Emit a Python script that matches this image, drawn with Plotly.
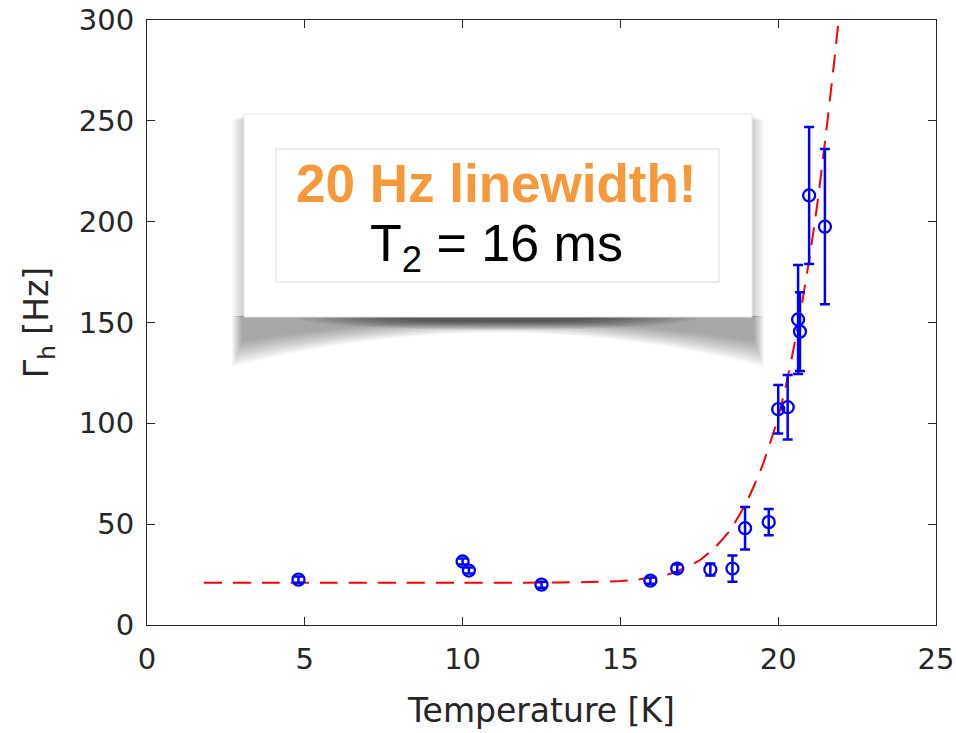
import plotly.graph_objects as go

# Measured homogeneous linewidth vs temperature
temperature_K = [4.8, 10.0, 10.2, 12.5, 15.95, 16.8, 17.85, 18.55, 18.95, 19.7,
                 20.0, 20.3, 20.63, 20.69, 20.98, 21.48]
linewidth_Hz = [22.5, 31.5, 27.0, 20.0, 22.0, 28.0, 27.5, 28.0, 48.0, 51.0,
                107.0, 108.0, 151.5, 145.5, 213.0, 197.5]
linewidth_err = [1.5, 1.5, 1.5, 1.5, 1.5, 2.0, 3.0, 6.5, 10.5, 6.5,
                 12.0, 16.0, 27.0, 19.5, 34.0, 38.5]

# Fitted model curve, sampled
fit_T = [1.8, 4, 6, 8, 10, 12, 13, 14, 15, 15.5, 16, 16.5, 17, 17.5, 18, 18.5,
         19, 19.5, 20, 20.25, 20.5, 20.75, 21, 21.25, 21.5, 21.75, 21.95]
fit_G = [21, 21, 21, 21, 21, 21, 21.1, 21.3, 21.8, 22.4, 23.5, 25, 28, 32, 38.5, 47.5,
         61, 79, 103, 119, 138, 159, 183, 210, 242, 276, 305]

x_ticks = [0, 5, 10, 15, 20, 25]
y_ticks = [0, 50, 100, 150, 200, 250, 300]

AX = "#262626"
AXIS_FONT = "DejaVu Sans, Liberation Sans, Arial, sans-serif"
BOX_FONT = "Liberation Sans, Arial, Helvetica, sans-serif"

# plot-area geometry (pixels) used to place the callout box
L, R, T, B = 147, 936, 20, 625
W, H = 956, 733


def X(px):
    return (px - L) / (R - L) * 25.0


def Y(py):
    return (B - py) / (B - T) * 300.0


fig = go.Figure()

fig.add_trace(go.Scatter(
    x=fit_T, y=fit_G, mode="lines",
    line=dict(color="#ff0000", width=2, dash="18px,11px", shape="spline", smoothing=0.5),
    hoverinfo="skip", showlegend=False,
))

fig.add_trace(go.Scatter(
    x=temperature_K, y=linewidth_Hz, mode="markers",
    marker=dict(symbol="circle-open", size=12, color="#0000ff", line=dict(width=2.3, color="#0000ff")),
    error_y=dict(type="data", array=linewidth_err, visible=True, color="#0000ff",
                 thickness=2.5, width=5),
    showlegend=False,
))

shapes = []

bx0, bx1, by0, by1 = 244, 752, 114, 317
xm = (bx0 + bx1) / 2

# faint side shadows of the callout box
for i in range(8):
    t = i / 7
    s = 12 - 10 * t
    top = by0 + 2 + 4 * (1 - t)
    for xa, xb in ((bx0 - s, bx0), (bx1, bx1 + s)):
        shapes.append(dict(type="rect", xref="x", yref="y", x0=X(xa), x1=X(xb),
                           y0=Y(by1), y1=Y(top), fillcolor="rgba(0,0,0,0.024)",
                           line=dict(width=0), layer="above"))

# soft curled shadow beneath the callout box
n = 14
for i in range(n):
    t = i / (n - 1)
    s = 12 - 10 * t
    yc = by1 + 50 - 26 * t
    ym = by1 + 16 - 12 * t
    yctrl = 2 * ym - yc
    xl, xr = bx0 - s, bx1 + s
    path = (f"M {X(xl)},{Y(by1 - 1)} L {X(xl)},{Y(yc)} "
            f"Q {X(xm)},{Y(yctrl)} {X(xr)},{Y(yc)} L {X(xr)},{Y(by1 - 1)} Z")
    shapes.append(dict(type="path", path=path, xref="x", yref="y",
                       fillcolor="rgba(0,0,0,0.026)", line=dict(width=0), layer="above"))

# darker core right under the middle of the box
m = 9
for i in range(m):
    t = i / (m - 1)
    hw = 200 - 100 * t
    hh = 13 - 8 * t
    shapes.append(dict(type="circle", xref="x", yref="y",
                       x0=X(xm - hw), x1=X(xm + hw), y0=Y(by1 + hh), y1=Y(by1 - hh),
                       fillcolor="rgba(0,0,0,0.065)", line=dict(width=0), layer="above"))

# white callout box and inner frame
shapes.append(dict(type="rect", xref="x", yref="y", x0=X(bx0), x1=X(bx1), y0=Y(by1), y1=Y(by0),
                   fillcolor="white", line=dict(color="#e6e6e6", width=1), layer="above"))
shapes.append(dict(type="rect", xref="x", yref="y", x0=X(276), x1=X(719), y0=Y(282), y1=Y(149),
                   fillcolor="rgba(0,0,0,0)", line=dict(color="#d9d9d9", width=1), layer="above"))

annotations = [
    dict(x=X(496), y=Y(183), xref="x", yref="y", text="<b>20 Hz linewidth!</b>",
         showarrow=False, font=dict(family=BOX_FONT, size=53, color="#f7983a")),
    dict(x=X(496), y=Y(247), xref="x", yref="y", text="T<sub>2</sub> = 16 ms",
         showarrow=False, font=dict(family=BOX_FONT, size=52, color="#000000")),
]

fig.update_layout(
    width=W, height=H,
    margin=dict(l=L, r=W - R, t=T, b=H - B, pad=0),
    paper_bgcolor="white", plot_bgcolor="white",
    font=dict(family=AXIS_FONT, color=AX),
    shapes=shapes, annotations=annotations,
    xaxis=dict(
        range=[0, 25], tickvals=x_ticks, ticktext=[str(v) for v in x_ticks],
        ticks="inside", ticklen=8, tickwidth=1, tickcolor=AX,
        showline=True, linecolor=AX, linewidth=1, mirror="ticks",
        showgrid=False, zeroline=False, automargin=False, ticklabelstandoff=8,
        tickfont=dict(size=29, color=AX, family=AXIS_FONT),
        title=dict(text="Temperature [K]", font=dict(size=33, color=AX, family=AXIS_FONT), standoff=24),
    ),
    yaxis=dict(
        range=[0, 300], tickvals=y_ticks, ticktext=[str(v) for v in y_ticks],
        ticks="inside", ticklen=8, tickwidth=1, tickcolor=AX,
        showline=True, linecolor=AX, linewidth=1, mirror="ticks",
        showgrid=False, zeroline=False, automargin=False, ticklabelstandoff=6,
        tickfont=dict(size=29, color=AX, family=AXIS_FONT),
        title=dict(text="Γ<sub>h</sub> [Hz]", font=dict(size=33, color=AX, family=AXIS_FONT), standoff=20),
    ),
)

fig.write_html("out.html")
